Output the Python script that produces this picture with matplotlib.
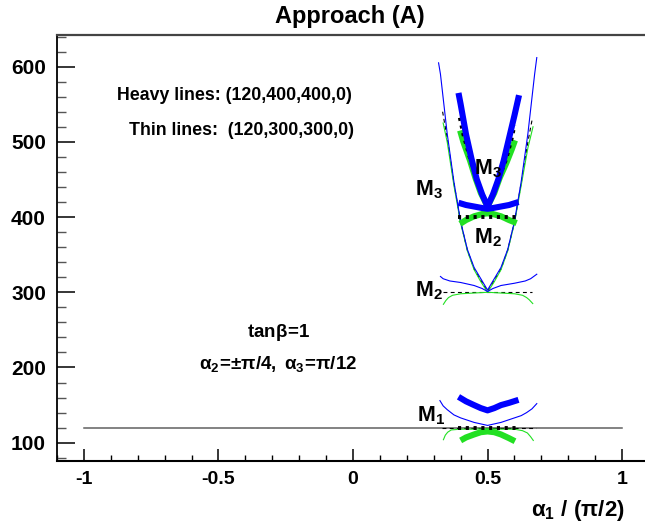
import matplotlib.pyplot as plt
from matplotlib.ticker import MultipleLocator

plt.rcParams['font.family'] = ['Liberation Sans', 'DejaVu Sans']
plt.rcParams['font.weight'] = 'bold'
plt.rcParams['axes.unicode_minus'] = False
plt.rcParams['mathtext.fontset'] = 'custom'
plt.rcParams['mathtext.rm'] = 'Liberation Sans'
plt.rcParams['mathtext.bf'] = 'Liberation Sans:bold'
plt.rcParams['mathtext.it'] = 'Liberation Sans:italic'

BLUE = '#0000ff'
GREEN = '#22e022'

# --- thin lines: (120,300,300,0) ---
a_m3_thin_blue = [0.318, 0.325, 0.35, 0.375, 0.40, 0.425, 0.45, 0.475, 0.5,
                  0.525, 0.55, 0.575, 0.60, 0.625, 0.65, 0.675, 0.683]
m3_thin_blue = [605, 590, 511, 447, 394, 357, 333, 318, 303,
                318, 333, 357, 394, 447, 511, 590, 612]
a_m3_thin_green = [0.335, 0.35, 0.375, 0.40, 0.425, 0.45, 0.475, 0.5,
                   0.525, 0.55, 0.575, 0.60, 0.625, 0.65, 0.669]
m3_thin_green = [525, 500, 442, 392, 355, 330, 314, 300,
                 314, 330, 355, 392, 442, 492, 520]
a_m3_thin_ref = [0.333, 0.35, 0.375, 0.40, 0.425, 0.45, 0.475, 0.5,
                 0.525, 0.55, 0.575, 0.60, 0.625, 0.65, 0.667]
m3_thin_ref = [540, 505, 445, 393, 356, 331, 316, 301,
               316, 331, 356, 393, 445, 500, 532]

a_m2_thin_blue = [0.325, 0.335, 0.36, 0.40, 0.45, 0.48, 0.5,
                  0.52, 0.55, 0.60, 0.64, 0.66, 0.683]
m2_thin_blue = [321, 318, 315, 313, 309, 305, 301,
                305, 309, 312, 315, 318, 324]
a_m2_thin_green = [0.336, 0.345, 0.355, 0.37, 0.40, 0.45, 0.5,
                   0.55, 0.60, 0.63, 0.645, 0.655, 0.668]
m2_thin_green = [284, 289, 293, 296, 298, 299, 300,
                 299, 298, 296, 293, 290, 285]
a_m2_thin_ref = [0.335, 0.665]
m2_thin_ref = [300, 300]

a_m1_thin_blue = [0.323, 0.335, 0.35, 0.375, 0.40, 0.425, 0.45, 0.475, 0.5,
                  0.525, 0.55, 0.575, 0.60, 0.625, 0.645, 0.665, 0.683]
m1_thin_blue = [156, 149, 144, 137, 133, 130, 127, 125, 123,
                125, 127, 130, 133, 136, 140, 145, 152]
a_m1_thin_green = [0.336, 0.343, 0.352, 0.365, 0.40, 0.45, 0.5,
                   0.55, 0.60, 0.63, 0.648, 0.66, 0.67]
m1_thin_green = [104, 110, 114, 117, 118, 118, 118.5,
                 118, 118, 116, 113, 108, 103]
a_m1_thin_ref = [0.33, 0.68]
m1_thin_ref = [120, 120]

# --- heavy lines: (120,400,400,0) ---
a_m3_heavy_blue = [0.392, 0.40, 0.42, 0.44, 0.46, 0.48, 0.5,
                   0.52, 0.54, 0.56, 0.58, 0.60, 0.617]
m3_heavy_blue = [565, 550, 510, 478, 450, 430, 414,
                 430, 450, 475, 505, 535, 562]
a_m3_heavy_green = [0.398, 0.41, 0.435, 0.455, 0.475, 0.5,
                    0.525, 0.545, 0.57, 0.59, 0.602]
m3_heavy_green = [515, 500, 475, 452, 432, 414,
                  432, 452, 472, 490, 502]
a_m3_heavy_ref = [0.397, 0.41, 0.435, 0.455, 0.475, 0.5,
                  0.525, 0.545, 0.57, 0.59, 0.60]
m3_heavy_ref = [532, 510, 478, 454, 434, 414,
                434, 454, 478, 505, 522]

a_m2_heavy_blue = [0.392, 0.42, 0.45, 0.48, 0.5, 0.52, 0.55, 0.58, 0.615]
m2_heavy_blue = [419, 416, 414, 412, 411, 412, 414, 416, 420]
a_m2_heavy_green = [0.398, 0.42, 0.45, 0.48, 0.5, 0.52, 0.55, 0.58, 0.608]
m2_heavy_green = [391, 396, 401, 404, 405, 404, 401, 396, 392]
a_m2_heavy_ref = [0.392, 0.61]
m2_heavy_ref = [400, 400]

a_m1_heavy_blue = [0.392, 0.42, 0.45, 0.475, 0.5, 0.525, 0.55, 0.58, 0.615]
m1_heavy_blue = [161, 155, 150, 146, 143, 146, 150, 153, 157]
a_m1_heavy_green = [0.40, 0.42, 0.45, 0.475, 0.5, 0.525, 0.55, 0.58, 0.602]
m1_heavy_green = [103, 107, 111, 114, 115, 114, 111, 106, 102]
a_m1_heavy_ref = [0.392, 0.61]
m1_heavy_ref = [120, 120]

# M1 input mass drawn across the whole range
a_m1_input = [-1, 1]
m1_input = [120, 120]

x_ticks = [-1, -0.5, 0, 0.5, 1]
x_ticklabels = ['-1', '-0.5', '0', '0.5', '1']
y_ticks = [100, 200, 300, 400, 500, 600]

fig = plt.figure(figsize=(6.45, 5.26), dpi=100)
ax = fig.add_axes([57 / 645, 65 / 526, 592 / 645, 426 / 526])

thin = 0.8
heavy = 4.4
dash = (0, (3.5, 3))
dots = (0, (0.8, 1.2))

ax.plot(a_m1_input, m1_input, color='#606060', lw=1.1)

# thin set
ax.plot(a_m3_thin_ref, m3_thin_ref, color='k', lw=thin, ls=dash)
ax.plot(a_m2_thin_ref, m2_thin_ref, color='k', lw=thin, ls=dash)
ax.plot(a_m1_thin_ref, m1_thin_ref, color='k', lw=thin, ls=dash)
ax.plot(a_m3_thin_green, m3_thin_green, color=GREEN, lw=thin)
ax.plot(a_m2_thin_green, m2_thin_green, color=GREEN, lw=thin)
ax.plot(a_m1_thin_green, m1_thin_green, color=GREEN, lw=thin)
ax.plot(a_m3_thin_blue, m3_thin_blue, color=BLUE, lw=thin)
ax.plot(a_m2_thin_blue, m2_thin_blue, color=BLUE, lw=thin)
ax.plot(a_m1_thin_blue, m1_thin_blue, color=BLUE, lw=thin)

# heavy set
for a, m in [(a_m3_heavy_green, m3_heavy_green),
             (a_m2_heavy_green, m2_heavy_green),
             (a_m1_heavy_green, m1_heavy_green)]:
    ax.plot(a, m, color=GREEN, lw=heavy, solid_capstyle='butt')
for a, m in [(a_m3_heavy_ref, m3_heavy_ref),
             (a_m2_heavy_ref, m2_heavy_ref),
             (a_m1_heavy_ref, m1_heavy_ref)]:
    ax.plot(a, m, color='k', lw=2.8, ls=dots, dash_capstyle='butt')
for a, m in [(a_m3_heavy_blue, m3_heavy_blue),
             (a_m2_heavy_blue, m2_heavy_blue),
             (a_m1_heavy_blue, m1_heavy_blue)]:
    ax.plot(a, m, color=BLUE, lw=heavy, solid_capstyle='butt')

ax.set_xlim(-1.1, 1.1)
ax.set_ylim(75.7, 642)
ax.set_xticks(x_ticks)
ax.set_xticklabels(x_ticklabels)
ax.set_yticks(y_ticks)
ax.xaxis.set_minor_locator(MultipleLocator(0.1))
ax.yaxis.set_minor_locator(MultipleLocator(20))
ax.tick_params(axis='x', which='major', direction='in', length=9, width=1.1,
               labelsize=14, pad=7)
ax.tick_params(axis='x', which='minor', direction='in', length=4.5, width=1.0)
ax.tick_params(axis='y', which='major', direction='in', length=13, width=1.1,
               labelsize=15, pad=8)
ax.tick_params(axis='y', which='minor', direction='in', length=6.5, width=1.0,
               color='#555555')
ax.spines['right'].set_visible(False)
ax.spines['top'].set_color('#444444')
ax.spines['top'].set_linewidth(1.6)
ax.spines['left'].set_linewidth(1.3)
ax.spines['bottom'].set_linewidth(1.5)

fig.text(350 / 645, 1 - 17 / 526, 'Approach (A)', ha='center', va='center',
         fontsize=17, fontweight='bold')

ax.text(-0.439, 561, 'Heavy lines: (120,400,400,0)', ha='center', va='center',
        fontsize=12.8, fontweight='bold')
ax.text(-0.413, 514.5, 'Thin lines:  (120,300,300,0)', ha='center', va='center',
        fontsize=12.8, fontweight='bold')
ax.text(-0.275, 246, r'$\mathbf{tan}\mathrm{\beta}\!\mathbf{=}\!\mathbf{1}$',
        ha='center', va='center', fontsize=13.5)
ax.text(-0.277, 204,
        r'$\mathrm{\alpha}_\mathbf{2}\!\mathbf{=}\!\mathrm{\pm\pi}\mathbf{/4,}\;'
        r'\mathrm{\alpha}_\mathbf{3}\!\mathbf{=}\!\mathrm{\pi}\mathbf{/12}$',
        ha='center', va='center', fontsize=13.5)

mass_labels = [(0.2305, 429, '3'), (0.4498, 457, '3'), (0.4498, 365.6, '2'),
               (0.2305, 294, '2'), (0.237, 129, '1')]
for x, y, i in mass_labels:
    ax.text(x, y, r'$\mathbf{M}_\mathbf{%s}$' % i, ha='left', va='baseline',
            fontsize=15.5)

fig.text(625 / 645, 10 / 526,
         r'$\mathrm{\alpha}_\mathbf{1}\mathbf{\ /\ (}\mathrm{\pi}\mathbf{/2)}$',
         ha='right', va='baseline', fontsize=16)

fig.savefig('out.png', dpi=100)
